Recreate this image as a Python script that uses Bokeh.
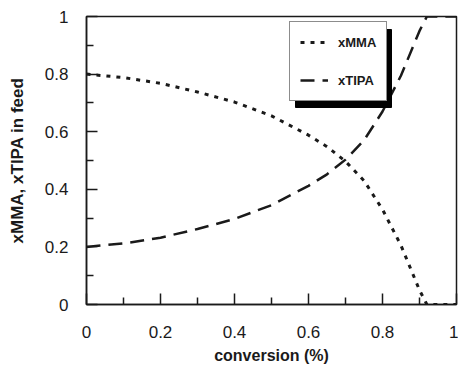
from bokeh.plotting import figure
from bokeh.models import Range1d, Legend, LegendItem, FixedTicker, BoxAnnotation
from bokeh.embed import file_html
from bokeh.resources import INLINE

conversion = [0.0, 0.1, 0.2, 0.3, 0.4, 0.5, 0.6, 0.65, 0.7, 0.75, 0.8, 0.85, 0.9, 0.92, 0.95, 1.0]
xMMA = [0.800, 0.788, 0.768, 0.738, 0.703, 0.655, 0.588, 0.548, 0.497, 0.430, 0.330, 0.205, 0.050, 0.0, 0.0, 0.0]
xTIPA = [0.200, 0.212, 0.232, 0.262, 0.297, 0.345, 0.412, 0.452, 0.503, 0.570, 0.670, 0.795, 0.950, 1.0, 1.0, 1.0]

x_ticks = [0, 0.2, 0.4, 0.6, 0.8, 1.0]
x_tick_labels = ["0", "0.2", "0.4", "0.6", "0.8", "1"]
y_ticks = [0, 0.2, 0.4, 0.6, 0.8, 1.0]
y_tick_labels = ["0", "0.2", "0.4", "0.6", "0.8", "1"]
minor_ticks = [0.1, 0.3, 0.5, 0.7, 0.9]

FONT = "Liberation Sans"
INK = "#1a1a1a"

p = figure(width=458, height=372, output_backend="svg", toolbar_location=None,
           x_range=Range1d(0, 1), y_range=Range1d(0, 1),
           min_border_left=86, min_border_right=2, min_border_top=16, min_border_bottom=68)
p.grid.visible = False
p.outline_line_color = INK
p.outline_line_width = 1.5
p.background_fill_color = "white"
p.border_fill_color = "white"

r1 = p.line(conversion, xMMA, line_color=INK, line_width=3, line_dash="4 6")
r2 = p.line(conversion, xTIPA, line_color=INK, line_width=2.5, line_dash="14 8")

for ax, ticks, labels in ((p.xaxis[0], x_ticks, x_tick_labels), (p.yaxis[0], y_ticks, y_tick_labels)):
    ax.ticker = FixedTicker(ticks=ticks, minor_ticks=minor_ticks)
    ax.major_label_overrides = {t: l for t, l in zip(ticks, labels)}
    ax.major_tick_in = 11
    ax.major_tick_out = 0
    ax.minor_tick_in = 7
    ax.minor_tick_out = 0
    ax.axis_line_width = 1.5
    ax.axis_line_color = INK
    ax.major_tick_line_width = 1.5
    ax.minor_tick_line_width = 1.5
    ax.major_tick_line_color = INK
    ax.minor_tick_line_color = INK
    ax.major_label_text_font = FONT
    ax.major_label_text_font_size = "17px"
    ax.major_label_text_color = INK
    ax.axis_label_text_font = FONT
    ax.axis_label_text_font_style = "bold"
    ax.axis_label_text_color = INK

p.xaxis.axis_label = "conversion (%)"
p.yaxis.axis_label = "xMMA, xTIPA in feed"
p.xaxis.axis_label_text_font_size = "16px"
p.yaxis.axis_label_text_font_size = "17px"
p.xaxis.major_label_standoff = 21
p.yaxis.major_label_standoff = 18
p.xaxis.axis_label_standoff = 6
p.yaxis.axis_label_standoff = 15

# legend drop shadow (screen units, relative to the frame's bottom-left)
shadow = BoxAnnotation(left=209, right=305, bottom=197, top=275,
                       left_units="screen", right_units="screen",
                       bottom_units="screen", top_units="screen",
                       fill_color="black", fill_alpha=1.0,
                       line_color="black", line_alpha=1.0)
p.add_layout(shadow)

legend = Legend(items=[LegendItem(label="xMMA", renderers=[r1]),
                       LegendItem(label="xTIPA", renderers=[r2])],
                location=(203, 203), padding=10, spacing=18, label_height=20,
                glyph_height=20, glyph_width=28, label_standoff=10, margin=0,
                label_text_font=FONT, label_text_font_size="13px",
                label_text_font_style="bold", label_text_color=INK,
                border_line_color=INK, border_line_width=1,
                background_fill_color="white", background_fill_alpha=1.0)
p.add_layout(legend)

open("out.html", "w").write(file_html(p, INLINE))
